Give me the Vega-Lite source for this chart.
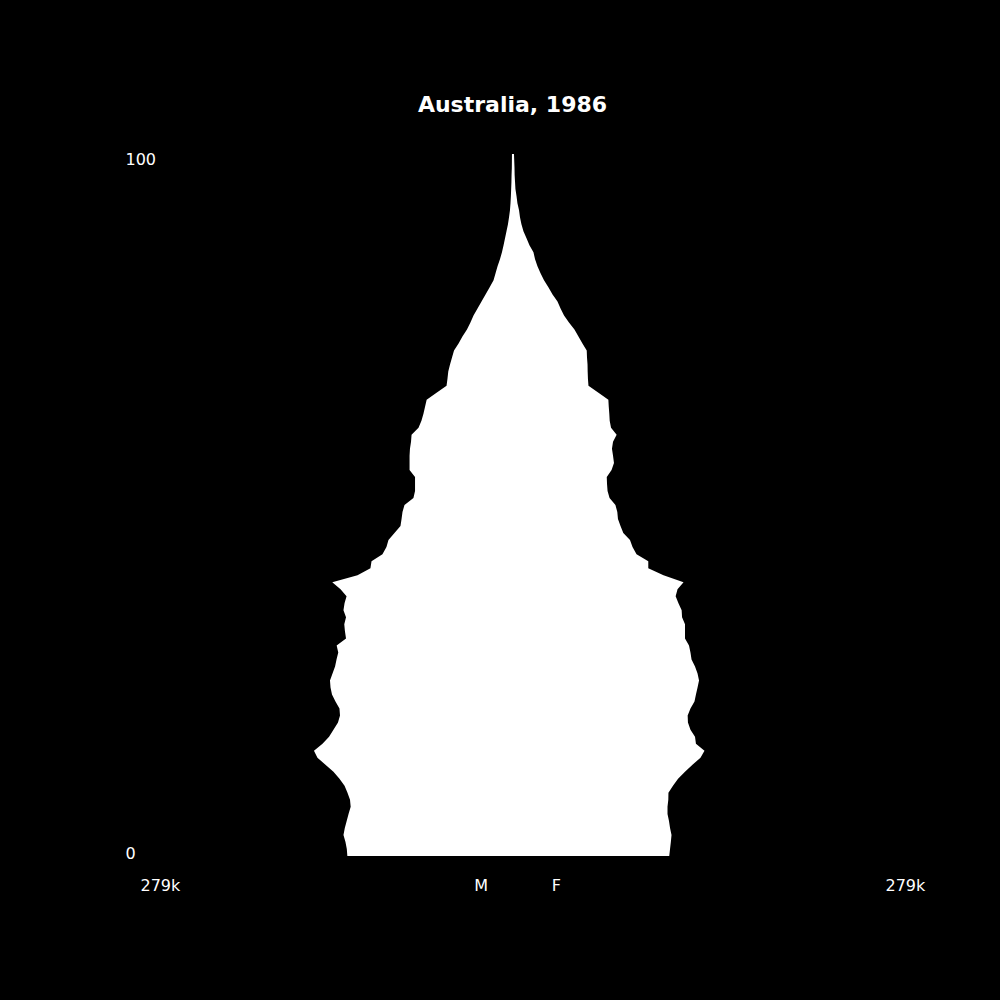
{
  "$schema": "https://vega.github.io/schema/vega-lite/v6.json",
  "autosize": {"type": "none"},
  "padding": {"left": 140, "right": 115, "top": 154, "bottom": 144},
  "width": 745,
  "height": 702,
  "background": "black",
  "config": {"font": "DejaVu Sans", "view": {"stroke": null}},
  "title": {"text": "Australia, 1986", "color": "white", "fontSize": 22, "fontWeight": "bold", "font": "DejaVu Sans", "anchor": "middle", "frame": "group", "baseline": "alphabetic", "offset": 18},
  "data": {"values": [
    {"age": 0, "male": -123.7, "female": 117.4},
    {"age": 1, "male": -124.1, "female": 118.0},
    {"age": 2, "male": -125.1, "female": 118.6},
    {"age": 3, "male": -126.6, "female": 119.1},
    {"age": 4, "male": -125.6, "female": 118.0},
    {"age": 5, "male": -124.2, "female": 117.2},
    {"age": 6, "male": -122.8, "female": 116.1},
    {"age": 7, "male": -121.2, "female": 116.1},
    {"age": 8, "male": -121.7, "female": 116.7},
    {"age": 9, "male": -123.6, "female": 116.8},
    {"age": 10, "male": -125.8, "female": 120.2},
    {"age": 11, "male": -129.6, "female": 124.0},
    {"age": 12, "male": -134.1, "female": 129.2},
    {"age": 13, "male": -140.1, "female": 134.8},
    {"age": 14, "male": -146.1, "female": 140.8},
    {"age": 15, "male": -148.7, "female": 143.8},
    {"age": 16, "male": -142.3, "female": 137.4},
    {"age": 17, "male": -137.4, "female": 136.7},
    {"age": 18, "male": -134.1, "female": 133.3},
    {"age": 19, "male": -130.7, "female": 131.4},
    {"age": 20, "male": -129.2, "female": 131.2},
    {"age": 21, "male": -129.6, "female": 133.3},
    {"age": 22, "male": -132.6, "female": 136.3},
    {"age": 23, "male": -135.2, "female": 137.4},
    {"age": 24, "male": -136.3, "female": 138.6},
    {"age": 25, "male": -136.7, "female": 139.7},
    {"age": 26, "male": -134.8, "female": 138.6},
    {"age": 27, "male": -132.9, "female": 136.7},
    {"age": 28, "male": -131.8, "female": 134.1},
    {"age": 29, "male": -130.5, "female": 133.3},
    {"age": 30, "male": -131.7, "female": 132.2},
    {"age": 31, "male": -124.7, "female": 129.2},
    {"age": 32, "male": -125.5, "female": 129.2},
    {"age": 33, "male": -126.0, "female": 129.2},
    {"age": 34, "male": -124.7, "female": 127.0},
    {"age": 35, "male": -126.6, "female": 126.7},
    {"age": 36, "male": -125.8, "female": 124.3},
    {"age": 37, "male": -124.3, "female": 122.2},
    {"age": 38, "male": -128.8, "female": 123.6},
    {"age": 39, "male": -135.0, "female": 128.1},
    {"age": 40, "male": -116.1, "female": 113.1},
    {"age": 41, "male": -106.4, "female": 101.7},
    {"age": 42, "male": -105.6, "female": 101.7},
    {"age": 43, "male": -97.4, "female": 92.9},
    {"age": 44, "male": -94.4, "female": 89.9},
    {"age": 45, "male": -92.9, "female": 88.0},
    {"age": 46, "male": -88.4, "female": 83.0},
    {"age": 47, "male": -83.9, "female": 80.9},
    {"age": 48, "male": -83.1, "female": 79.0},
    {"age": 49, "male": -82.4, "female": 78.5},
    {"age": 50, "male": -80.9, "female": 77.1},
    {"age": 51, "male": -74.2, "female": 72.7},
    {"age": 52, "male": -73.0, "female": 71.2},
    {"age": 53, "male": -73.0, "female": 70.8},
    {"age": 54, "male": -73.0, "female": 70.6},
    {"age": 55, "male": -77.1, "female": 74.2},
    {"age": 56, "male": -77.1, "female": 76.0},
    {"age": 57, "male": -77.1, "female": 75.3},
    {"age": 58, "male": -76.8, "female": 74.5},
    {"age": 59, "male": -76.0, "female": 75.3},
    {"age": 60, "male": -75.6, "female": 78.0},
    {"age": 61, "male": -70.4, "female": 73.8},
    {"age": 62, "male": -68.2, "female": 72.8},
    {"age": 63, "male": -66.7, "female": 72.5},
    {"age": 64, "male": -65.5, "female": 72.1},
    {"age": 65, "male": -64.3, "female": 71.8},
    {"age": 66, "male": -56.9, "female": 64.4},
    {"age": 67, "male": -49.4, "female": 56.9},
    {"age": 68, "male": -48.7, "female": 56.5},
    {"age": 69, "male": -48.1, "female": 56.3},
    {"age": 70, "male": -46.8, "female": 56.2},
    {"age": 71, "male": -45.3, "female": 55.8},
    {"age": 72, "male": -43.8, "female": 55.6},
    {"age": 73, "male": -40.4, "female": 52.4},
    {"age": 74, "male": -37.5, "female": 49.4},
    {"age": 75, "male": -34.1, "female": 46.4},
    {"age": 76, "male": -31.5, "female": 42.3},
    {"age": 77, "male": -29.2, "female": 38.6},
    {"age": 78, "male": -26.2, "female": 36.0},
    {"age": 79, "male": -23.2, "female": 33.7},
    {"age": 80, "male": -20.2, "female": 30.0},
    {"age": 81, "male": -17.2, "female": 27.0},
    {"age": 82, "male": -14.2, "female": 23.6},
    {"age": 83, "male": -12.7, "female": 21.0},
    {"age": 84, "male": -11.2, "female": 18.7},
    {"age": 85, "male": -9.4, "female": 16.9},
    {"age": 86, "male": -7.9, "female": 15.7},
    {"age": 87, "male": -6.7, "female": 12.7},
    {"age": 88, "male": -5.6, "female": 10.5},
    {"age": 89, "male": -4.5, "female": 8.2},
    {"age": 90, "male": -3.4, "female": 6.7},
    {"age": 91, "male": -2.6, "female": 5.6},
    {"age": 92, "male": -1.9, "female": 4.9},
    {"age": 93, "male": -1.5, "female": 3.7},
    {"age": 94, "male": -1.2, "female": 3.0},
    {"age": 95, "male": -1.0, "female": 2.2},
    {"age": 96, "male": -0.8, "female": 1.9},
    {"age": 97, "male": -0.7, "female": 1.6},
    {"age": 98, "male": -0.5, "female": 1.5},
    {"age": 99, "male": -0.45, "female": 1.3},
    {"age": 100, "male": -0.4, "female": 1.1}
  ]},
  "mark": {"type": "area", "orient": "horizontal", "interpolate": "linear", "color": "white", "opacity": 1},
  "encoding": {
    "y": {
      "field": "age", "type": "quantitative",
      "scale": {"domain": [0, 100], "nice": false, "zero": false},
      "axis": {
        "title": null, "values": [0, 100], "domain": false, "ticks": false, "tickSize": 0, "grid": false,
        "labelColor": "white", "labelFont": "DejaVu Sans", "labelFontSize": 16,
        "labelAlign": "left", "labelPadding": 15, "labelOffset": -2.5,
        "labelBaseline": {"condition": {"test": "datum.value === 100", "value": "top"}, "value": "middle"},
        "labelOverlap": false, "labelFlush": false, "labelBound": false
      }
    },
    "x": {
      "field": "male", "type": "quantitative",
      "scale": {"domain": [-279, 279], "nice": false, "zero": false},
      "axis": {
        "title": null, "values": [-279, -29, 29, 279], "domain": false, "ticks": false, "tickSize": 0, "grid": false,
        "labelExpr": "abs(datum.value) > 200 ? '279k' : (datum.value < 0 ? 'M' : 'F')",
        "labelColor": "white", "labelFont": "DejaVu Sans", "labelFontSize": 16,
        "labelAlign": "left", "labelBaseline": "alphabetic", "labelPadding": 34,
        "labelOverlap": false, "labelFlush": false, "labelBound": false
      }
    },
    "x2": {"field": "female"}
  }
}
